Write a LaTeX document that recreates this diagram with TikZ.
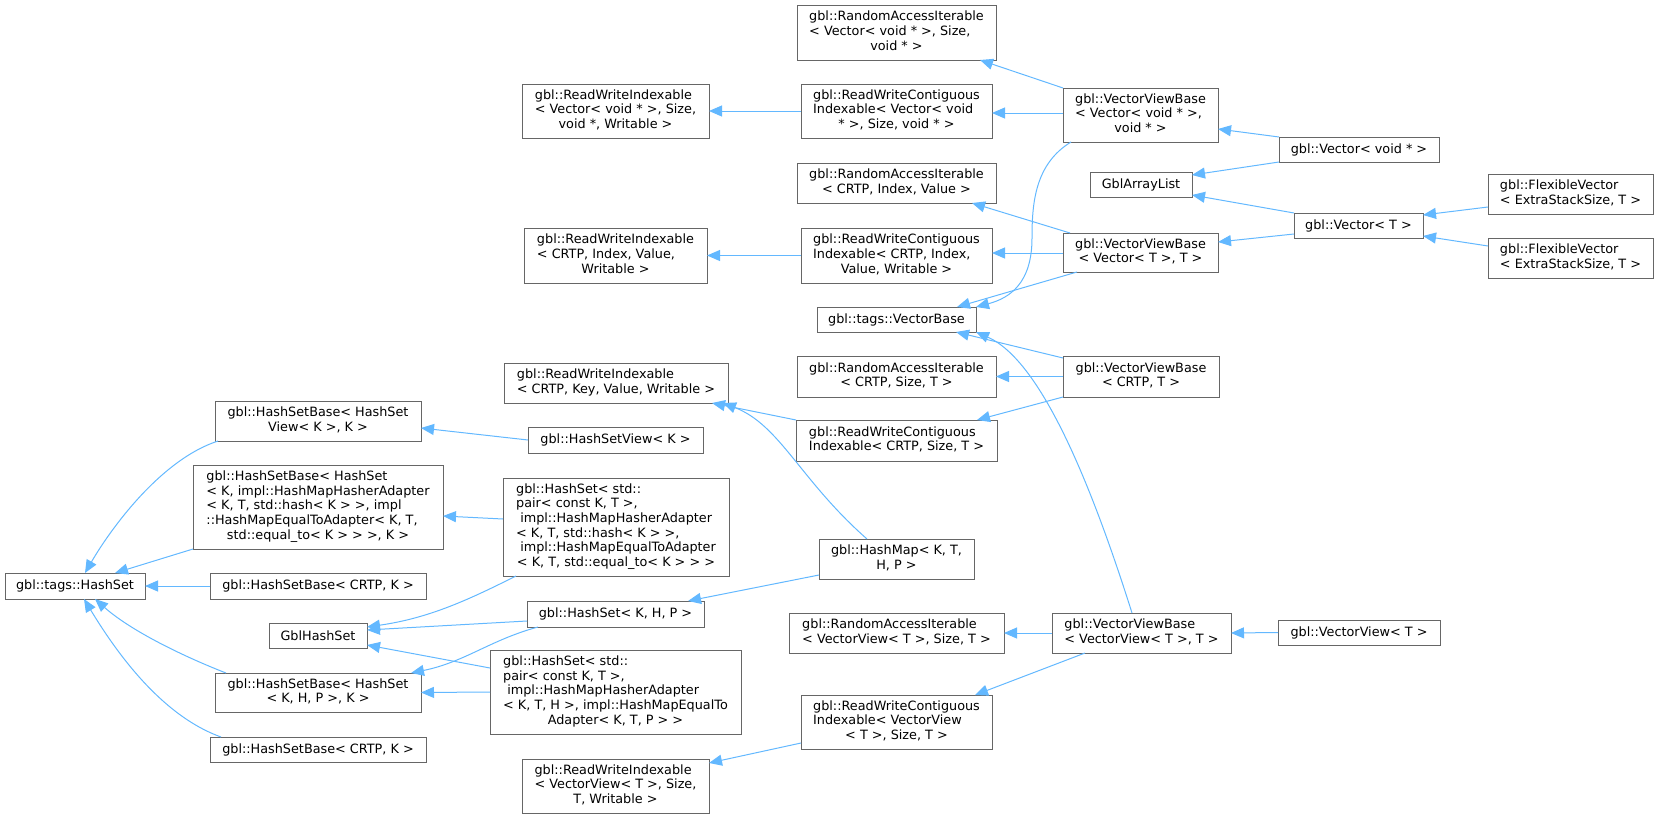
\documentclass[tikz,border=0pt]{standalone}
\usepackage{fontspec}
\setmainfont{DejaVu Sans}
\usetikzlibrary{arrows.meta,calc}
\definecolor{boxgray}{HTML}{666666}
\definecolor{edgeblue}{HTML}{63B8FF}
\newcommand\lastline[1]{\multicolumn{1}{@{}c@{}}{#1}}
\newcommand\tb[1]{\begin{tabular}{@{}l@{}}#1\end{tabular}}
\begin{document}
\begin{tikzpicture}[x=1pt,y=-1pt,
  box/.style={draw=boxgray, fill=white, line width=0.9pt, inner sep=0pt, outer sep=0pt,
    font=\fontsize{12.8}{14.7}\selectfont},
  edge/.style={draw=edgeblue, line width=1pt, -{Triangle[length=13pt,width=11pt]}}]
\useasboundingbox (0,0) rectangle (1659,819);

% column 1
\node[box,minimum width=140,minimum height=26] (hs) at (75,586) {gbl::tags::HashSet};
% column 2
\node[box,minimum width=206,minimum height=40] (hsbView) at (318,421) {\tb{gbl::HashSetBase< HashSet\\\lastline{View< K >, K >}}};
\node[box,minimum width=250,minimum height=84] (hsbImpl) at (318,507) {\tb{gbl::HashSetBase< HashSet\\< K, impl::HashMapHasherAdapter\\< K, T, std::hash< K > >, impl\\::HashMapEqualToAdapter< K, T,\\\lastline{std::equal\_to< K > > >, K >}}};
\node[box,minimum width=216,minimum height=26] (hsbCRTP1) at (318,586) {gbl::HashSetBase< CRTP, K >};
\node[box,minimum width=98,minimum height=25] (gblHashSet) at (318,635.5) {GblHashSet};
\node[box,minimum width=206,minimum height=39] (hsbKHP) at (318,692.5) {\tb{gbl::HashSetBase< HashSet\\\lastline{< K, H, P >, K >}}};
\node[box,minimum width=216,minimum height=25] (hsbCRTP2) at (318,749.5) {gbl::HashSetBase< CRTP, K >};
% column 3
\node[box,minimum width=187,minimum height=54] (rwiVoid) at (615.5,111) {\tb{gbl::ReadWriteIndexable\\< Vector< void * >, Size,\\\lastline{void *, Writable >}}};
\node[box,minimum width=183,minimum height=55] (rwiCRTP) at (615.5,255.5) {\tb{gbl::ReadWriteIndexable\\< CRTP, Index, Value,\\\lastline{Writable >}}};
\node[box,minimum width=224,minimum height=40] (rwiKey) at (616,383) {\tb{gbl::ReadWriteIndexable\\\lastline{< CRTP, Key, Value, Writable >}}};
\node[box,minimum width=175,minimum height=26] (hsView) at (615.5,440) {gbl::HashSetView< K >};
\node[box,minimum width=226,minimum height=98] (hsPair1) at (616,527) {\tb{gbl::HashSet< std::\\pair< const K, T >,\\\ impl::HashMapHasherAdapter\\< K, T, std::hash< K > >,\\\ impl::HashMapEqualToAdapter\\\lastline{< K, T, std::equal\_to< K > > >}}};
\node[box,minimum width=177,minimum height=26] (hsKHP) at (615.5,614) {gbl::HashSet< K, H, P >};
\node[box,minimum width=251,minimum height=84] (hsPair2) at (615.5,692) {\tb{gbl::HashSet< std::\\pair< const K, T >,\\\ impl::HashMapHasherAdapter\\< K, T, H >, impl::HashMapEqualTo\\\lastline{Adapter< K, T, P > >}}};
\node[box,minimum width=187,minimum height=54] (rwiVV) at (615.5,786) {\tb{gbl::ReadWriteIndexable\\< VectorView< T >, Size,\\\lastline{T, Writable >}}};
% column 4
\node[box,minimum width=199,minimum height=55] (raiVoid) at (896.5,32.5) {\tb{gbl::RandomAccessIterable\\< Vector< void * >, Size,\\\lastline{void * >}}};
\node[box,minimum width=191,minimum height=54] (rwcVoid) at (896.5,111) {\tb{gbl::ReadWriteContiguous\\Indexable< Vector< void\\\lastline{* >, Size, void * >}}};
\node[box,minimum width=199,minimum height=40] (raiCRTP) at (896.5,183) {\tb{gbl::RandomAccessIterable\\\lastline{< CRTP, Index, Value >}}};
\node[box,minimum width=191,minimum height=55] (rwcCRTP) at (896.5,255.5) {\tb{gbl::ReadWriteContiguous\\Indexable< CRTP, Index,\\\lastline{Value, Writable >}}};
\node[box,minimum width=159,minimum height=25] (vb) at (896.5,319.5) {gbl::tags::VectorBase};
\node[box,minimum width=199,minimum height=41] (raiSize) at (896.5,376.5) {\tb{gbl::RandomAccessIterable\\\lastline{< CRTP, Size, T >}}};
\node[box,minimum width=201,minimum height=41] (rwcSize) at (896.5,440.5) {\tb{gbl::ReadWriteContiguous\\\lastline{Indexable< CRTP, Size, T >}}};
\node[box,minimum width=155,minimum height=40] (hashMap) at (896.5,559) {\tb{gbl::HashMap< K, T,\\\lastline{H, P >}}};
\node[box,minimum width=215,minimum height=40] (raiVV) at (896.5,633) {\tb{gbl::RandomAccessIterable\\\lastline{< VectorView< T >, Size, T >}}};
\node[box,minimum width=191,minimum height=54] (rwcVV) at (896.5,722) {\tb{gbl::ReadWriteContiguous\\Indexable< VectorView\\\lastline{< T >, Size, T >}}};
% column 5
\node[box,minimum width=155,minimum height=54] (vvbVoid) at (1140.5,115) {\tb{gbl::VectorViewBase\\< Vector< void * >,\\\lastline{void * >}}};
\node[box,minimum width=102,minimum height=25] (gblArrayList) at (1141,184.5) {GblArrayList};
\node[box,minimum width=155,minimum height=39] (vvbT) at (1140.5,252.5) {\tb{gbl::VectorViewBase\\\lastline{< Vector< T >, T >}}};
\node[box,minimum width=156,minimum height=41] (vvbCRTP) at (1141,376.5) {\tb{gbl::VectorViewBase\\\lastline{< CRTP, T >}}};
\node[box,minimum width=179,minimum height=40] (vvbVV) at (1141.5,633) {\tb{gbl::VectorViewBase\\\lastline{< VectorView< T >, T >}}};
% column 6
\node[box,minimum width=160,minimum height=25] (vecVoid) at (1359,149.5) {gbl::Vector< void * >};
\node[box,minimum width=129,minimum height=25] (vecT) at (1358.5,225.5) {gbl::Vector< T >};
\node[box,minimum width=162,minimum height=25] (vecView) at (1359,632.5) {gbl::VectorView< T >};
% column 7
\node[box,minimum width=165,minimum height=40] (flex1) at (1570.5,194) {\tb{gbl::FlexibleVector\\\lastline{< ExtraStackSize, T >}}};
\node[box,minimum width=165,minimum height=40] (flex2) at (1570.5,258) {\tb{gbl::FlexibleVector\\\lastline{< ExtraStackSize, T >}}};

\coordinate (vbBend) at (1032,238);

% edges (child -> parent)
\draw[edge] ($(hsbView.south west)+(3,0)$) .. controls +(-58,19) and +(25,-43) .. ($(hs.north west)+(80,0)$);
\draw[edge] (hsbImpl.south west) -- ($(hs.north west)+(110,0)$);
\draw[edge] (hsbCRTP1.west) -- (hs.east);
\draw[edge] ($(hsbKHP.north west)+(11,0)$) .. controls +(-46,-18) and +(35,31) .. ($(hs.south west)+(90,0)$);
\draw[edge] ($(hsbCRTP2.north west)+(11,0)$) .. controls +(-61,-22) and +(31,51) .. ($(hs.south west)+(79,0)$);
\draw[edge] (hsView.west) -- ($(hsbView.north east)+(0,27)$);
\draw[edge] ($(hsPair1.north west)+(0,41)$) -- ($(hsbImpl.north east)+(0,51)$);
\draw[edge] ($(hsPair1.south west)+(13,0)$) .. controls +(-46,23) and +(63,-9) .. ($(gblHashSet.north east)+(0,4)$);
\draw[edge] ($(hsKHP.north west)+(0,20)$) -- ($(gblHashSet.north east)+(0,7)$);
\draw[edge] ($(hsPair2.north west)+(0,18)$) -- ($(gblHashSet.south east)+(0,-3)$);
\draw[edge] ($(hsKHP.south west)+(11,0)$) .. controls +(-48,13) and +(54,-11) .. ($(hsbKHP.north east)+(-10,0)$);
\draw[edge] (hsPair2.west) -- (hsbKHP.east);
\draw[edge] ($(hashMap.south west)+(0,-4)$) -- ($(hsKHP.north east)+(-16,0)$);
\draw[edge] ($(hashMap.north west)+(48,0)$) .. controls +(-67,-59) and +(57,22) .. ($(rwiKey.south east)+(-5,0)$);
\draw[edge] (rwcSize.north west) -- ($(rwiKey.south east)+(-16,0)$);
\draw[edge] (rwcVoid.west) -- (rwiVoid.east);
\draw[edge] (rwcCRTP.west) -- (rwiCRTP.east);
\draw[edge] (vvbVoid.north west) -- ($(raiVoid.south east)+(-16,0)$);
\draw[edge] ($(vvbVoid.north west)+(0,25)$) -- ($(rwcVoid.north east)+(0,29)$);
\draw[edge] ($(vvbVoid.south west)+(8,0)$) .. controls +(-36,22) and +(0,-35) .. (vbBend) .. controls +(0,45) and +(34,-9) .. (vb.north east);
\draw[edge] ($(vvbT.north west)+(7,0)$) -- ($(raiCRTP.south east)+(-24,0)$);
\draw[edge] ($(vvbT.north west)+(0,20)$) -- ($(rwcCRTP.north east)+(0,25)$);
\draw[edge] ($(vvbT.south west)+(14,0)$) -- ($(vb.north east)+(-19,0)$);
\draw[edge] (vecVoid.north west) -- ($(vvbVoid.north east)+(0,41)$);
\draw[edge] (vecVoid.south west) -- ($(gblArrayList.north east)+(0,3)$);
\draw[edge] (vecT.north west) -- ($(gblArrayList.south east)+(0,-2)$);
\draw[edge] ($(vecT.north west)+(0,21)$) -- ($(vvbT.north east)+(0,9)$);
\draw[edge] ($(flex1.north west)+(0,33)$) -- ($(vecT.north east)+(0,2)$);
\draw[edge] ($(flex2.north west)+(0,8)$) -- ($(vecT.north east)+(0,23)$);
\draw[edge] ($(vvbCRTP.north west)+(0,2)$) -- ($(vb.south east)+(-20,0)$);
\draw[edge] (vvbCRTP.west) -- (raiSize.east);
\draw[edge] (vvbCRTP.south west) -- ($(rwcSize.north east)+(-20,0)$);
\draw[edge] ($(vvbVV.north west)+(80,0)$) .. controls +(-42,-133) and +(64,28) .. (vb.south east);
\draw[edge] (vvbVV.west) -- (raiVV.east);
\draw[edge] ($(vvbVV.south west)+(33,0)$) -- ($(rwcVV.north east)+(-17,0)$);
\draw[edge] (vecView.west) -- (vvbVV.east);
\draw[edge] ($(rwcVV.south west)+(0,-6)$) -- ($(rwiVV.north east)+(0,4)$);
\end{tikzpicture}
\end{document}
